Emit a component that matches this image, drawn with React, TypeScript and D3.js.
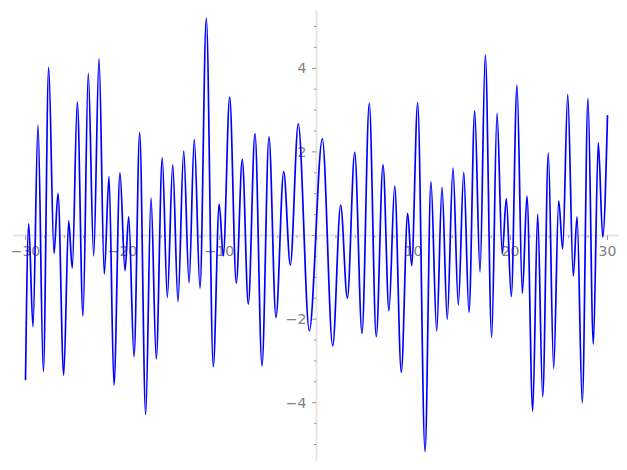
import React, { useEffect, useRef } from 'react';
import * as d3 from 'd3';

// turning points of the curve
const xs = [
  -30, -29.67, -29.23, -28.71, -28.16, -27.61, -27.06, -26.65, -26.06, -25.55,
  -25.18, -24.66, -24.07, -23.53, -22.97, -22.42, -21.88, -21.39, -20.88, -20.26,
  -19.74, -19.36, -18.81, -18.23, -17.61, -17.06, -16.52, -15.9, -15.38, -14.82,
  -14.28, -13.69, -13.14, -12.6, -12.01, -11.36, -10.64, -10.03, -9.61, -8.95,
  -8.27, -7.65, -7.03, -6.34, -5.62, -4.9, -4.18, -3.38, -2.7, -1.88,
  -0.74, 0.6, 1.67, 2.49, 3.18, 3.94, 4.69, 5.44, 6.16, 6.86,
  7.47, 8.06, 8.74, 9.4, 9.81, 10.43, 11.19, 11.8, 12.39, 12.94,
  13.48, 14.07, 14.62, 15.18, 15.72, 16.31, 16.86, 17.4, 18.06, 18.61,
  19.15, 19.57, 20.08, 20.67, 21.22, 21.7, 22.29, 22.8, 23.32, 23.9,
  24.45, 24.97, 25.38, 25.9, 26.47, 26.86, 27.4, 27.99, 28.54, 29.05,
  29.51, 30
];
const ys = [
  -3.46, 0.28, -2.18, 2.64, -3.26, 4.02, -0.43, 1.01, -3.34, 0.35,
  -0.78, 3.2, -1.93, 3.88, -0.49, 4.23, -0.92, 1.41, -3.58, 1.5,
  -0.84, 0.45, -2.9, 2.46, -4.28, 0.9, -2.95, 1.86, -1.48, 1.69,
  -1.58, 2.02, -1.13, 2.3, -1.26, 5.2, -3.14, 0.75, -0.49, 3.31,
  -1.14, 1.82, -1.64, 2.44, -3.12, 2.36, -1.96, 1.53, -0.71, 2.67,
  -2.28, 2.31, -2.64, 0.73, -1.5, 1.99, -2.34, 3.16, -2.42, 1.69,
  -1.8, 1.18, -3.27, 0.53, -0.72, 3.18, -5.17, 1.29, -2.28, 1.15,
  -2.0, 1.61, -1.66, 1.51, -1.84, 2.98, -0.87, 4.32, -2.44, 2.92,
  -0.44, 0.88, -1.46, 3.6, -1.38, 0.94, -4.2, 0.51, -3.86, 1.97,
  -3.18, 0.83, -0.32, 3.37, -0.97, 0.45, -4.0, 3.28, -2.6, 2.22,
  -0.04, 2.88
];

const xMajor = [-30, -20, -10, 10, 20, 30];
const yMajor = [-4, -2, 2, 4];

const App = () => {
  const ref = useRef<SVGSVGElement>(null);

  useEffect(() => {
    if (!ref.current) return;
    const width = 627;
    const height = 470;
    const tickColor = '#808080';
    const axisColor = '#e6e6e6';

    const x = d3.scaleLinear().domain([-30, 30]).range([25.5, 607.5]);
    const y = d3.scaleLinear().domain([-4, 4]).range([402.7, 68.3]);

    const svg = d3.select(ref.current)
      .attr('width', width)
      .attr('height', height)
      .style('position', 'absolute')
      .style('left', 0)
      .style('top', 0)
      .style('font-family', 'DejaVu Sans');
    svg.selectAll('*').remove();

    // axes through the origin
    svg.append('line')
      .attr('x1', x(-31.3)).attr('x2', x(31.1))
      .attr('y1', y(0)).attr('y2', y(0))
      .attr('stroke', axisColor).attr('stroke-width', 2);
    svg.append('line')
      .attr('x1', x(0)).attr('x2', x(0))
      .attr('y1', y(5.39)).attr('y2', y(-5.39))
      .attr('stroke', axisColor).attr('stroke-width', 2);

    const xMinor = d3.range(-30, 31, 2);
    const yMinor = d3.range(-5, 5.01, 0.5);

    svg.append('g').selectAll('line').data(xMinor).join('line')
      .attr('x1', d => x(d)).attr('x2', d => x(d))
      .attr('y1', y(0)).attr('y2', d => y(0) + (d % 10 === 0 ? 4.5 : 2.5))
      .attr('stroke', tickColor).attr('stroke-width', 0.8);
    svg.append('g').selectAll('line').data(yMinor).join('line')
      .attr('y1', d => y(d)).attr('y2', d => y(d))
      .attr('x1', x(0)).attr('x2', d => x(0) - (d % 2 === 0 ? 4.5 : 2.5))
      .attr('stroke', tickColor).attr('stroke-width', 0.8);

    const fmt = (v: number) => (v < 0 ? '\u2212' + Math.abs(v) : String(v));

    svg.append('g').selectAll('text').data(xMajor).join('text')
      .attr('x', d => x(d))
      .attr('y', y(0) + 20.5)
      .attr('text-anchor', 'middle')
      .attr('font-size', 14)
      .attr('fill', tickColor)
      .text(fmt);
    svg.append('g').selectAll('text').data(yMajor).join('text')
      .attr('x', x(0) - 10)
      .attr('y', d => y(d))
      .attr('dy', '0.36em')
      .attr('text-anchor', 'end')
      .attr('font-size', 14)
      .attr('fill', tickColor)
      .text(fmt);

    const pts: [number, number][] = xs.map((v, i) => [v, ys[i]]);
    const line = d3.line<[number, number]>()
      .x(d => x(d[0]))
      .y(d => y(d[1]))
      .curve(d3.curveMonotoneX);

    svg.append('path')
      .attr('d', line(pts))
      .attr('fill', 'none')
      .attr('stroke', '#0000ff')
      .attr('stroke-width', 1.7);
  }, []);

  return <svg ref={ref} />;
};

export default App;
